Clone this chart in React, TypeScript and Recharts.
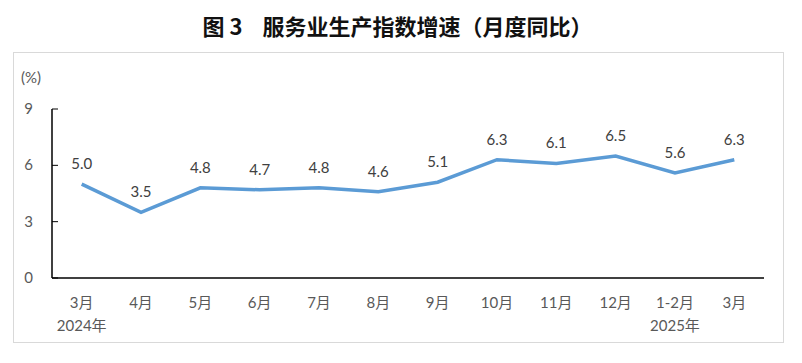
import { LineChart, Line, XAxis, YAxis, LabelList } from 'recharts';

const months = ['3月', '4月', '5月', '6月', '7月', '8月', '9月', '10月', '11月', '12月', '1-2月', '3月'];
const years = ['2024年', '', '', '', '', '', '', '', '', '', '2025年', ''];
const growth = [5.0, 3.5, 4.8, 4.7, 4.8, 4.6, 5.1, 6.3, 6.1, 6.5, 5.6, 6.3];
const yTicks = [0, 3, 6, 9];

const FONT = "Lato, 'Noto Sans CJK SC', sans-serif";
const TEXT = '#595959';

const data = months.map((m, i) => ({ idx: i, month: m, year: years[i], value: growth[i] }));

function MonthTick({ x, y, payload }: any) {
  const row = data[payload.value];
  return (
    <g>
      <text x={x} y={y + 22} textAnchor="middle" fontSize={15} fill={TEXT} fontFamily={FONT}>
        {row.month}
      </text>
      {row.year && (
        <text x={x} y={y + 45} textAnchor="middle" fontSize={15} fill={TEXT} fontFamily={FONT}>
          {row.year}
        </text>
      )}
    </g>
  );
}

function ValueTick({ x, y, payload }: any) {
  // tick mark points inward, right of the axis line
  return (
    <g>
      <line x1={x + 19} x2={x + 25} y1={y} y2={y} stroke="#000" strokeWidth={1} />
      <text x={x} y={y + 5} textAnchor="end" fontSize={15} fill={TEXT} fontFamily={FONT}>
        {payload.value}
      </text>
    </g>
  );
}

export default function App() {
  return (
    <div style={{ position: 'absolute', left: 0, top: 0, width: 802, height: 363, background: '#fff' }}>
      <div
        style={{
          position: 'absolute',
          left: 0,
          top: 9,
          width: 795,
          textAlign: 'center',
          fontFamily: "'Noto Sans CJK SC', sans-serif",
          fontWeight: 700,
          fontSize: 22,
          whiteSpace: 'pre',
          color: '#111',
        }}
      >
        {'图 3    服务业生产指数增速（月度同比）'}
      </div>
      <div
        style={{
          position: 'absolute',
          left: 13,
          top: 52,
          width: 771,
          height: 291,
          border: '1px solid #d9d9d9',
          boxSizing: 'border-box',
        }}
      />
      <div
        style={{ position: 'absolute', left: 21, top: 68, fontSize: 15, color: TEXT, fontFamily: FONT }}
      >
        (%)
      </div>
      <div style={{ position: 'absolute', left: 0, top: 0 }}>
        <LineChart width={802} height={363} data={data} margin={{ top: 109, right: 38, bottom: 25, left: 0 }}>
          <XAxis
            dataKey="idx"
            type="category"
            height={60}
            padding={{ left: 29.7, right: 29.7 }}
            axisLine={{ stroke: '#000', strokeWidth: 1.5 }}
            tickLine={false}
            interval={0}
            tick={<MonthTick />}
          />
          <YAxis
            domain={[0, 9]}
            ticks={yTicks}
            width={52}
            axisLine={{ stroke: '#000', strokeWidth: 1.5 }}
            tickLine={false}
            tickSize={6}
            tickMargin={13}
            tick={<ValueTick />}
          />
          <Line
            dataKey="value"
            stroke="#5b9bd5"
            strokeWidth={3.5}
            dot={false}
            isAnimationActive={false}
          >
            <LabelList
              dataKey="value"
              position="top"
              offset={15}
              fontSize={15}
              fill="#404040"
              fontFamily={FONT}
              formatter={(v: any) => Number(v).toFixed(1)}
            />
          </Line>
        </LineChart>
      </div>
    </div>
  );
}
